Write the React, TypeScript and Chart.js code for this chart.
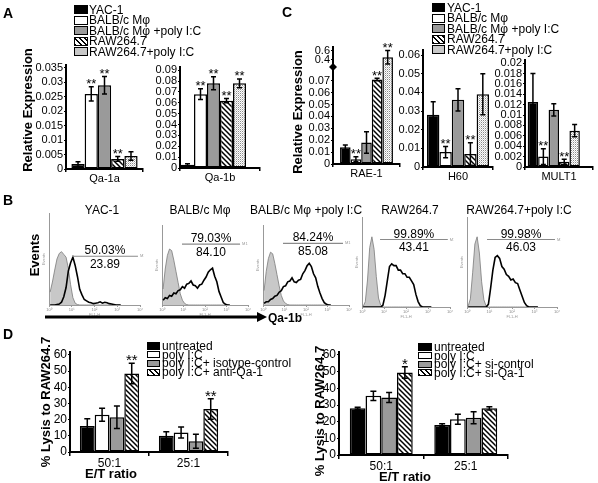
import React, { useEffect, useRef } from "react";
import { Chart, registerables } from "chart.js";

const FONT = "'Liberation Sans', Arial, Helvetica, sans-serif";

// ---------------- Panel A / C : relative expression ----------------
const cellLines = ["YAC-1", "BALB/c Mφ", "BALB/c Mφ +poly I:C", "RAW264.7", "RAW264.7+poly I:C"];
const cellFills = ["black", "white", "gray", "hatch", "dots"];

const qa1aValues = [0.0017, 0.026, 0.029, 0.0035, 0.0045];
const qa1aErrors = [0.0008, 0.0025, 0.003, 0.0008, 0.0015];
const qa1aStars = ["", "**", "**", "**", ""];
const qa1aTicks = [0, 0.005, 0.01, 0.015, 0.02, 0.025, 0.03, 0.035];

const qa1bValues = [0.003, 0.068, 0.078, 0.062, 0.078];
const qa1bErrors = [0.001, 0.005, 0.006, 0.002, 0.004];
const qa1bStars = ["", "**", "**", "**", "**"];
const qa1bTicks = [0, 0.01, 0.02, 0.03, 0.04, 0.05, 0.06, 0.07, 0.08, 0.09];

const rae1Values = [0.014, 0.004, 0.018, 0.071, 0.45];
const rae1Errors = [0.002, 0.002, 0.009, 0.001, 0.15];
const rae1Stars = ["", "**", "", "**", "**"];
const rae1TicksLow = [0, 0.01, 0.02, 0.03, 0.04, 0.05, 0.06, 0.07];
const rae1TicksHigh = [0.4, 0.6];

const h60Values = [0.028, 0.008, 0.036, 0.007, 0.039];
const h60Errors = [0.007, 0.003, 0.006, 0.006, 0.011];
const h60Stars = ["", "**", "", "**", ""];
const h60Ticks = [0, 0.01, 0.02, 0.03, 0.04, 0.05, 0.06];

const mult1Values = [0.0125, 0.002, 0.011, 0.001, 0.007];
const mult1Errors = [0.0055, 0.0015, 0.0012, 0.0005, 0.0012];
const mult1Stars = ["", "**", "", "**", ""];
const mult1Ticks = [0, 0.002, 0.004, 0.006, 0.008, 0.01, 0.012, 0.014, 0.016, 0.018, 0.02];

// ---------------- Panel B : flow histograms (4 decades, 0.1-decade bins) ----------------
const flowTitles = cellLines;
const yacIso = [14, 25, 38, 50, 56, 58, 55, 52, 40, 22, 8, 2, 0.5, 0, 0, 0, 0, 0, 0, 0, 0, 0, 0, 0, 0, 0, 0, 0, 0, 0, 0, 0];
const yacStained = [0, 0, 0, 0.5, 1, 3, 9, 19, 37, 46, 52, 43, 31, 17, 11, 6, 4.5, 3, 2.5, 1.5, 2, 2.5, 3.5, 2, 3, 2.5, 1.5, 1, 0.5, 0, 0, 0];
const bmIso = [20, 45, 62, 70, 68, 56, 42, 28, 14, 6, 2, 0.5, 0, 0, 0, 0, 0, 0, 0, 0, 0, 0, 0, 0, 0, 0, 0, 0, 0, 0, 0, 0];
const bmStained = [6, 9, 8, 12, 11, 15, 14, 18, 19, 23, 21, 26, 27, 30, 25, 24, 21, 25, 26, 31, 35, 41, 44, 46, 36, 29, 17, 10, 3, 1, 0, 0];
const bmPolyIso = [18, 42, 58, 66, 64, 52, 38, 24, 12, 5, 2, 0.5, 0, 0, 0, 0, 0, 0, 0, 0, 0, 0, 0, 0, 0, 0, 0, 0, 0, 0, 0, 0];
const bmPolyStained = [2, 4, 4, 7, 8, 11, 12, 16, 18, 23, 24, 29, 30, 34, 29, 28, 31, 32, 39, 43, 49, 52, 48, 39, 34, 23, 15, 8, 3, 1, 0, 0];
const rawIso = [0.5, 6, 30, 66, 78, 64, 34, 10, 2, 0, 0, 0, 0, 0, 0, 0, 0, 0, 0, 0, 0, 0, 0, 0, 0, 0, 0, 0, 0, 0, 0, 0];
const rawStained = [0, 0, 0, 0, 0, 0, 0, 0, 0, 2, 13, 29, 45, 48, 46, 46, 41, 41, 37, 37, 33, 33, 29, 25, 14, 6, 1.5, 0, 0, 0, 0, 0];
const rawPolyIso = [1, 9, 38, 70, 78, 60, 28, 8, 1, 0, 0, 0, 0, 0, 0, 0, 0, 0, 0, 0, 0, 0, 0, 0, 0, 0, 0, 0, 0, 0, 0, 0];
const rawPolyStained = [0, 0, 0, 0, 0, 0, 0, 0, 0, 3, 21, 41, 55, 57, 54, 45, 42, 36, 34, 30, 31, 27, 26, 19, 12, 5, 1.5, 0, 0, 0, 0, 0];
const gatePercents = ["50.03%", "79.03%", "84.24%", "99.89%", "99.98%"];
const gateMfis = ["23.89", "84.10", "85.08", "43.41", "46.03"];
const decadeLabels = ["10⁰", "10¹", "10²", "10³", "10⁴"];

// ---------------- Panel D : lysis ----------------
const etRatios = ["50:1", "25:1"];
const dFills = ["black", "white", "gray", "hatch"];
const dLeftTreatments = ["untreated", "poly I:C", "poly I:C+ isotype-control", "poly I:C+ anti-Qa-1"];
const dLeft50 = [16, 23, 21.5, 48.5];
const dLeft50Err = [4.5, 4, 7, 6.3];
const dLeft25 = [10, 12, 6.6, 26.6];
const dLeft25Err = [2.5, 3.4, 4.3, 6.3];
const dLeft50Stars = ["", "", "", "**"];
const dLeft25Stars = ["", "", "", "**"];
const dRightTreatments = ["untreated", "poly I:C", "poly I:C+ si-control", "poly I:C+ si-Qa-1"];
const dRight50 = [28, 35.5, 34.5, 49.5];
const dRight50Err = [0.6, 2.8, 3, 3.5];
const dRight25 = [18, 21.4, 22.3, 28];
const dRight25Err = [0.8, 3, 3.6, 1];
const dRight50Stars = ["", "", "", "*"];
const dRight25Stars = ["", "", "", ""];
const lysisTicks = [0, 10, 20, 30, 40, 50, 60];

// ---------------- plugins ----------------
const errStarsPlugin = {
  id: "errStars",
  afterDatasetsDraw(chart: any, _a: any, opts: any) {
    if (!opts || !opts.on) return;
    const ctx = chart.ctx;
    const ys = chart.scales.y;
    chart.data.datasets.forEach((ds: any, i: number) => {
      if (!ds.errHi) return;
      const meta = chart.getDatasetMeta(i);
      meta.data.forEach((bar: any, j: number) => {
        const x = bar.x;
        const yHi = ys.getPixelForValue(ds.errHi[j]);
        const yLo = ys.getPixelForValue(ds.errLo[j]);
        ctx.save();
        ctx.strokeStyle = "#000";
        ctx.lineWidth = opts.lw;
        ctx.beginPath();
        ctx.moveTo(x, yLo);
        ctx.lineTo(x, yHi);
        ctx.moveTo(x - opts.cap / 2, yHi);
        ctx.lineTo(x + opts.cap / 2, yHi);
        ctx.moveTo(x - opts.cap / 2, yLo);
        ctx.lineTo(x + opts.cap / 2, yLo);
        ctx.stroke();
        const st = ds.stars[j];
        if (st) {
          ctx.fillStyle = "#000";
          ctx.font = `${opts.starSize}px ${FONT}`;
          ctx.textAlign = "center";
          ctx.textBaseline = "alphabetic";
          ctx.fillText(st, x, yHi + opts.starDy);
        }
        ctx.restore();
      });
    });
    if (typeof opts.breakAt === "number") {
      const x = chart.chartArea.left;
      const y = ys.getPixelForValue(opts.breakAt);
      ctx.save();
      ctx.fillStyle = "#000";
      ctx.beginPath();
      ctx.moveTo(x - 4, y);
      ctx.lineTo(x, y - 4);
      ctx.lineTo(x + 4, y);
      ctx.lineTo(x, y + 4);
      ctx.closePath();
      ctx.fill();
      ctx.restore();
    }
  },
};

const gatePlugin = {
  id: "gate",
  afterDatasetsDraw(chart: any, _a: any, opts: any) {
    if (!opts || typeof opts.from !== "number") return;
    const ctx = chart.ctx;
    const xs = chart.scales.x;
    const ys = chart.scales.y;
    const x1 = xs.getPixelForValue(opts.from);
    const x2 = xs.getPixelForValue(opts.to);
    const y = ys.getPixelForValue(opts.level);
    const cx = (x1 + x2) / 2;
    ctx.save();
    ctx.strokeStyle = "#8a8a8a";
    ctx.lineWidth = 1.2;
    ctx.beginPath();
    ctx.moveTo(x1, y);
    ctx.lineTo(x2, y);
    ctx.stroke();
    ctx.fillStyle = "#000";
    ctx.font = `12px ${FONT}`;
    ctx.textAlign = "center";
    ctx.textBaseline = "alphabetic";
    ctx.fillText(opts.pct, cx, y - 2);
    ctx.fillText(opts.mfi, cx, y + 11.5);
    ctx.fillStyle = "#999";
    ctx.font = `4px ${FONT}`;
    ctx.textAlign = "left";
    ctx.fillText("M1", x2 + 2, y + 1);
    ctx.restore();
  },
};

Chart.register(...registerables, errStarsPlugin, gatePlugin);
Chart.defaults.font.family = FONT;
Chart.defaults.color = "#000";

function makeFill(ctx: CanvasRenderingContext2D, kind: string): any {
  if (kind === "black") return "#000";
  if (kind === "white") return "#fff";
  if (kind === "gray") return "#9a9a9a";
  const c = document.createElement("canvas");
  const g = c.getContext("2d")!;
  if (kind === "hatch") {
    c.width = 5;
    c.height = 5;
    g.fillStyle = "#fff";
    g.fillRect(0, 0, 5, 5);
    g.strokeStyle = "#000";
    g.lineWidth = 1.5;
    g.beginPath();
    g.moveTo(-1, -1);
    g.lineTo(6, 6);
    g.moveTo(-1, 4);
    g.lineTo(1, 6);
    g.moveTo(4, -1);
    g.lineTo(6, 1);
    g.stroke();
  } else {
    c.width = 2;
    c.height = 2;
    g.fillStyle = "#fff";
    g.fillRect(0, 0, 2, 2);
    g.fillStyle = "#8c8c8c";
    g.fillRect(0, 0, 1, 1);
    g.fillStyle = "#d0d0d0";
    g.fillRect(1, 1, 1, 1);
  }
  return ctx.createPattern(c, "repeat");
}

function swatchCss(kind: string) {
  if (kind === "black") return "#000";
  if (kind === "white") return "#fff";
  if (kind === "gray") return "#9a9a9a";
  if (kind === "hatch") return "repeating-linear-gradient(45deg, #000 0 1.4px, #fff 1.4px 3.6px)";
  return "radial-gradient(circle, #888 0.6px, transparent 0.8px) 0 0 / 2px 2px, #fff";
}

// ---------------- bar charts ----------------
type Series = { label: string; values: number[]; errors: number[]; stars: string[]; fill: string };
type BarSpec = {
  axisX: number; top: number; bottom: number; right: number;
  yw: number; xh: number; padTop: number; padRight: number;
  categories: string[]; series: Series[]; slots: number; catPct: number;
  yMax: number; tickValues: number[]; tickLabels: string[];
  tickFont: number; catFont: number; xTick: number;
  cap: number; starSize: number; starDy: number;
  transform?: (v: number) => number; breakAt?: number;
};

function cellSeries(values: number[], errors: number[], stars: string[]): Series[] {
  return cellLines.map((lb, i) => ({ label: lb, values: [values[i]], errors: [errors[i]], stars: [stars[i]], fill: cellFills[i] }));
}
function lysisSeries(names: string[], v50: number[], e50: number[], s50: string[], v25: number[], e25: number[], s25: string[]): Series[] {
  return names.map((lb, i) => ({ label: lb, values: [v50[i], v25[i]], errors: [e50[i], e25[i]], stars: [s50[i], s25[i]], fill: dFills[i] }));
}

function brk(v: number) {
  return v <= 0.08 ? v : 0.0878 + (v - 0.4) * 0.0378;
}

function buildBarConfig(ctx: CanvasRenderingContext2D, spec: BarSpec): any {
  const tf = spec.transform || ((v: number) => v);
  const datasets: any[] = spec.series.map((s) => ({
    label: s.label,
    data: s.values.map(tf),
    errHi: s.values.map((v, j) => tf(v + s.errors[j])),
    errLo: s.values.map((v, j) => tf(v - s.errors[j])),
    stars: s.stars,
    backgroundColor: makeFill(ctx, s.fill),
    borderColor: "#000",
    borderWidth: 1.5,
    borderSkipped: false,
    barPercentage: 1,
    categoryPercentage: spec.catPct,
  }));
  for (let k = spec.series.length; k < spec.slots; k++) {
    datasets.push({ label: "", data: [], barPercentage: 1, categoryPercentage: spec.catPct });
  }
  return {
    type: "bar",
    data: { labels: spec.categories, datasets },
    options: {
      responsive: false,
      maintainAspectRatio: false,
      animation: false,
      events: [],
      layout: { padding: { top: spec.padTop, right: spec.padRight, left: 0, bottom: 0 } },
      plugins: {
        legend: { display: false },
        tooltip: { enabled: false },
        errStars: { on: true, cap: spec.cap, lw: 1.5, starSize: spec.starSize, starDy: spec.starDy, breakAt: spec.breakAt },
      },
      scales: {
        x: {
          type: "category",
          offset: true,
          border: { display: true, color: "#000", width: 2 },
          grid: { display: true, offset: true, drawOnChartArea: false, drawTicks: true, tickLength: spec.xTick, color: "#000", lineWidth: 1.5 },
          ticks: { font: { size: spec.catFont }, padding: 0, color: "#000", maxRotation: 0, autoSkip: false },
          afterFit: (s: any) => { s.height = spec.xh; },
        },
        y: {
          type: "linear",
          min: 0,
          max: spec.yMax,
          border: { display: true, color: "#000", width: 2 },
          grid: { display: true, drawOnChartArea: false, drawTicks: true, tickLength: 2, color: "#000", lineWidth: 1 },
          ticks: {
            font: { size: spec.tickFont },
            padding: 1,
            color: "#000",
            autoSkip: false,
            callback: (_v: any, i: number) => spec.tickLabels[i],
          },
          afterBuildTicks: (s: any) => { s.ticks = spec.tickValues.map((v) => ({ value: v })); },
          afterFit: (s: any) => { s.width = spec.yw; },
        },
      },
    },
  };
}

function BarChart({ spec }: { spec: BarSpec }) {
  const ref = useRef<HTMLCanvasElement>(null);
  const cw = spec.yw + (spec.right - spec.axisX) + spec.padRight;
  const ch = spec.padTop + (spec.bottom - spec.top) + spec.xh;
  useEffect(() => {
    const ctx = ref.current!.getContext("2d")!;
    const chart = new Chart(ctx, buildBarConfig(ctx, spec));
    return () => chart.destroy();
  }, []);
  return (
    <canvas ref={ref} width={cw} height={ch}
      style={{ position: "absolute", left: spec.axisX - spec.yw, top: spec.top - spec.padTop, width: cw, height: ch }} />
  );
}

const smallAxis = { yw: 34, xh: 16, padTop: 16, padRight: 4, tickFont: 11, catFont: 11, xTick: 3, cap: 5, starSize: 13, starDy: 1.5 };

const barSpecs: BarSpec[] = [
  { ...smallAxis, axisX: 66, top: 65, bottom: 169, right: 143, categories: ["Qa-1a"],
    series: cellSeries(qa1aValues, qa1aErrors, qa1aStars), slots: 5, catPct: 0.86, yMax: 0.036,
    tickValues: qa1aTicks, tickLabels: qa1aTicks.map(String) },
  { ...smallAxis, axisX: 180, top: 67, bottom: 168, right: 260, categories: ["Qa-1b"],
    series: cellSeries(qa1bValues, qa1bErrors, qa1bStars), slots: 6, catPct: 0.975, yMax: 0.093,
    tickValues: qa1bTicks, tickLabels: qa1bTicks.map(String) },
  { ...smallAxis, axisX: 333, top: 47, bottom: 164, right: 400, categories: ["RAE-1"],
    series: cellSeries(rae1Values, rae1Errors, rae1Stars), slots: 5, catPct: 0.79, yMax: 0.0983,
    tickValues: [...rae1TicksLow, ...rae1TicksHigh.map(brk)], tickLabels: [...rae1TicksLow, ...rae1TicksHigh].map(String),
    transform: brk, breakAt: 0.0815 },
  { ...smallAxis, axisX: 423, top: 50, bottom: 167, right: 493, categories: ["H60"],
    series: cellSeries(h60Values, h60Errors, h60Stars), slots: 5, catPct: 0.886, yMax: 0.0627,
    tickValues: h60Ticks, tickLabels: h60Ticks.map(String) },
  { ...smallAxis, axisX: 525, top: 60, bottom: 167, right: 593, categories: ["MULT1"],
    series: cellSeries(mult1Values, mult1Errors, mult1Stars), slots: 6, catPct: 0.92, yMax: 0.0206,
    tickValues: mult1Ticks, tickLabels: mult1Ticks.map(String) },
  { axisX: 70, top: 352, bottom: 452, right: 228, yw: 22, xh: 16, padTop: 10, padRight: 4, tickFont: 12, catFont: 12, xTick: 4,
    cap: 6, starSize: 15, starDy: 2, categories: etRatios,
    series: lysisSeries(dLeftTreatments, dLeft50, dLeft50Err, dLeft50Stars, dLeft25, dLeft25Err, dLeft25Stars),
    slots: 4, catPct: 0.75, yMax: 61.8, tickValues: lysisTicks, tickLabels: lysisTicks.map(String) },
  { axisX: 339, top: 352, bottom: 455, right: 508, yw: 22, xh: 16, padTop: 10, padRight: 4, tickFont: 12, catFont: 12, xTick: 4,
    cap: 6, starSize: 15, starDy: 2, categories: etRatios,
    series: lysisSeries(dRightTreatments, dRight50, dRight50Err, dRight50Stars, dRight25, dRight25Err, dRight25Stars),
    slots: 4, catPct: 0.745, yMax: 61.8, tickValues: lysisTicks, tickLabels: lysisTicks.map(String) },
];

// ---------------- histograms ----------------
type HistSpec = { axisX: number; top: number; bottom: number; right: number; iso: number[]; stained: number[]; from: number; to: number; level: number; pct: string; mfi: string };

const histSpecs: HistSpec[] = [
  { axisX: 49, top: 213, bottom: 305, right: 140, iso: yacIso, stained: yacStained, from: 1.01, to: 3.91, level: 53, pct: gatePercents[0], mfi: gateMfis[0] },
  { axisX: 162, top: 225, bottom: 305, right: 248, iso: bmIso, stained: bmStained, from: 0.93, to: 3.63, level: 76, pct: gatePercents[1], mfi: gateMfis[1] },
  { axisX: 263, top: 225, bottom: 305, right: 349, iso: bmPolyIso, stained: bmPolyStained, from: 0.93, to: 3.72, level: 77, pct: gatePercents[2], mfi: gateMfis[2] },
  { axisX: 362, top: 217, bottom: 307, right: 450, iso: rawIso, stained: rawStained, from: 0.82, to: 3.9, level: 75, pct: gatePercents[3], mfi: gateMfis[3] },
  { axisX: 467, top: 217, bottom: 307, right: 557, iso: rawPolyIso, stained: rawPolyStained, from: 0.89, to: 3.91, level: 75, pct: gatePercents[4], mfi: gateMfis[4] },
];

function HistChart({ spec }: { spec: HistSpec }) {
  const ref = useRef<HTMLCanvasElement>(null);
  const yw = 8, xh = 12, padTop = 2, padRight = 4;
  const cw = yw + (spec.right - spec.axisX) + padRight;
  const ch = padTop + (spec.bottom - spec.top) + xh;
  useEffect(() => {
    const ctx = ref.current!.getContext("2d")!;
    const pts = (arr: number[]) => arr.map((v, i) => ({ x: i * 0.1 + 0.05, y: v }));
    const chart = new Chart(ctx, {
      type: "line",
      data: {
        datasets: [
          { data: pts(spec.stained), borderColor: "#000", borderWidth: 1.6, pointRadius: 0, fill: false, order: 0, tension: 0 },
          { data: pts(spec.iso), borderColor: "#7a7a7a", borderWidth: 0.8, backgroundColor: "#c8c8c8", fill: "origin", pointRadius: 0, order: 1, tension: 0 },
        ],
      },
      options: {
        responsive: false,
        maintainAspectRatio: false,
        animation: false,
        events: [],
        layout: { padding: { top: padTop, right: padRight, left: 0, bottom: 0 } },
        plugins: {
          legend: { display: false },
          tooltip: { enabled: false },
          gate: { from: spec.from, to: spec.to, level: spec.level, pct: spec.pct, mfi: spec.mfi },
        },
        scales: {
          x: {
            type: "linear", min: 0, max: 4,
            border: { display: true, color: "#999", width: 1 },
            grid: { display: true, drawOnChartArea: false, tickLength: 2, color: "#999" },
            ticks: { stepSize: 1, font: { size: 4 }, color: "#888", padding: 0, callback: (_v: any, i: number) => decadeLabels[i] },
            title: { display: true, text: "FL1-H", font: { size: 4 }, color: "#999", padding: 0 },
            afterFit: (s: any) => { s.height = xh; },
          },
          y: {
            type: "linear", min: 0, max: 100,
            border: { display: true, color: "#999", width: 1 },
            grid: { display: false },
            ticks: { display: false },
            title: { display: true, text: "Events", font: { size: 4 }, color: "#999", padding: 0 },
            afterFit: (s: any) => { s.width = yw; },
          },
        },
      },
    } as any);
    return () => chart.destroy();
  }, []);
  return (
    <canvas ref={ref} width={cw} height={ch}
      style={{ position: "absolute", left: spec.axisX - yw, top: spec.top - padTop, width: cw, height: ch }} />
  );
}

// ---------------- HTML helpers ----------------
function Txt({ x, y, children, size = 12, bold = false, rot = false, align = "center" }: any) {
  const tx = align === "start" ? "0" : "-50%";
  return (
    <div style={{
      position: "absolute", left: x, top: y, whiteSpace: "nowrap", lineHeight: 1,
      font: `${bold ? "bold " : ""}${size}px ${FONT}`, color: "#000",
      transform: `translate(${tx}, -50%)${rot ? " rotate(-90deg)" : ""}`,
    }}>{children}</div>
  );
}

function Legend({ boxX, boxW, y0, dy, textX, size, labels, fills }: any) {
  return (
    <>
      {labels.map((lb: string, i: number) => {
        const cy = y0 + i * dy;
        return (
          <React.Fragment key={i}>
            <div style={{
              position: "absolute", left: boxX, top: cy - (dy - 1.5) / 2, width: boxW, height: dy - 1.5,
              boxSizing: "border-box", border: "1.5px solid #000", background: swatchCss(fills[i]),
            }} />
            <Txt x={textX} y={cy} size={size} align="start">{lb}</Txt>
          </React.Fragment>
        );
      })}
    </>
  );
}

const flowTitleX = [102, 200, 306, 410, 519];

export default function App() {
  return (
    <div style={{ position: "absolute", left: 0, top: 0, width: 598, height: 483, background: "#fff", overflow: "hidden" }}>
      {barSpecs.map((s, i) => <BarChart key={"b" + i} spec={s} />)}
      {histSpecs.map((s, i) => <HistChart key={"h" + i} spec={s} />)}

      <svg width={598} height={483} style={{ position: "absolute", left: 0, top: 0, pointerEvents: "none" }}>
        <line x1={45} y1={317} x2={259} y2={317} stroke="#000" strokeWidth={3} />
        <polygon points="257,312 267,317 257,322" fill="#000" />
      </svg>

      <Txt x={3} y={13} size={14} bold align="start">A</Txt>
      <Txt x={282} y={12} size={14} bold align="start">C</Txt>
      <Txt x={3} y={200} size={14} bold align="start">B</Txt>
      <Txt x={3} y={334} size={14} bold align="start">D</Txt>

      <Legend boxX={74} boxW={14} y0={9.5} dy={10.5} textX={89} size={12} labels={cellLines} fills={cellFills} />
      <Legend boxX={432} boxW={13} y0={7.5} dy={10.6} textX={447} size={12} labels={cellLines} fills={cellFills} />
      <Legend boxX={147} boxW={13} y0={346} dy={8.7} textX={162} size={12} labels={dLeftTreatments} fills={dFills} />
      <Legend boxX={418} boxW={14} y0={347} dy={8.6} textX={434} size={12} labels={dRightTreatments} fills={dFills} />

      <Txt x={27} y={110} size={13} bold rot>Relative Expression</Txt>
      <Txt x={297} y={112} size={13} bold rot>Relative Expression</Txt>
      <Txt x={34} y={255} size={13} bold rot>Events</Txt>
      <Txt x={268} y={318} size={12} bold align="start">Qa-1b</Txt>
      {flowTitles.map((t, i) => <Txt key={"t" + i} x={flowTitleX[i]} y={210} size={12}>{t}</Txt>)}

      <Txt x={45} y={402} size={13} bold rot>% Lysis to RAW264.7</Txt>
      <Txt x={319} y={411} size={13} bold rot>% Lysis to RAW264.7</Txt>
      <Txt x={111} y={473} size={13} bold>E/T ratio</Txt>
      <Txt x={405} y={476} size={13} bold>E/T ratio</Txt>
    </div>
  );
}
